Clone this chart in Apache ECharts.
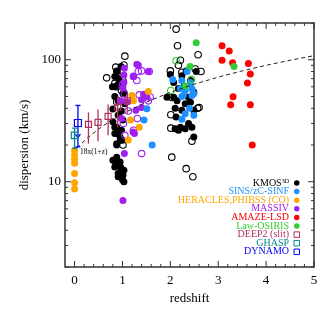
<!DOCTYPE html>
<html><head><meta charset="utf-8">
<script src="https://cdn.jsdelivr.net/npm/echarts@6/dist/echarts.min.js"></script>
<style>html,body{margin:0;padding:0;background:#fff}#c{width:336px;height:314px}</style>
</head><body><div id="c"></div>
<script>
// ---- axis ranges & ticks ----
const X_MIN = -0.2, X_MAX = 5, Y_MIN = 2, Y_MAX = 200;
const xMajorTicks = [0, 1, 2, 3, 4, 5];
const xMinorTicks = [0.2,0.4,0.6,0.8,1.2,1.4,1.6,1.8,2.2,2.4,2.6,2.8,3.2,3.4,3.6,3.8,4.2,4.4,4.6,4.8];
const yMajorTicks = [10, 100];
const yMinorTicks = [2,3,4,5,6,7,8,9,20,30,40,50,60,70,80,90,200];

// ---- data: [redshift, dispersion] ----
const kmosFilled = [
 [0.89,80],[0.84,73],[0.84,60],[0.84,50],[1.03,54],[0.80,39.5],[0.98,38],[0.91,35],[0.84,28],[0.98,26.4],
 [0.84,24.8],[0.95,23.3],[0.88,20.5],[0.96,21.9],[1.01,32],[0.91,46],[1.05,43.6],[0.79,60],[0.91,63],[1.01,52.5],
 [0.80,31],[0.88,28],[0.91,24.7],[1.00,21.9],[0.88,20],[0.93,70],[0.97,88],
 [0.88,15.9],[0.80,15.0],[0.95,14.5],[0.84,13.2],[0.96,13.2],[1.03,12.4],[0.91,11.7],[1.01,11.3],[0.91,11.0],
 [1.00,10.4],[1.03,10.0],[0.86,14.2],[0.98,12.0],
 [2.00,75.5],[2.24,74],[2.54,80],[2.07,65],[2.17,58],[2.07,49.3],[2.38,49.3],[2.49,54],[2.10,40],[2.24,38.5],
 [2.49,38.5],[2.21,28],[2.31,27.2],[2.45,28],[2.10,27.2],[2.38,30],[2.49,23.3],[2.14,46],[2.31,43.6],[2.42,44.9],
 [1.93,49.3],[2.17,26.4],[2.33,81],[2.42,67.5],[2.28,60],[2.12,34]
];
const kmosOpen = [
 [0.67,71],[1.03,90.5],[0.88,80.5],[0.92,73],[0.84,64],[0.88,60],[1.01,67.5],[0.98,56],[0.88,45],[1.01,20],
 [1.05,107],[0.86,87],
 [2.12,178],[2.15,130],[2.58,110],[2.21,99],[2.00,81],[2.64,80],[2.24,79],[2.03,49],[2.01,35.4],[2.57,40],
 [2.01,27.5],[2.45,21.5],[2.03,15.9],[2.33,12.8],[2.47,11.0],[2.60,40.5],[2.17,90],[2.52,84]
];
const sinsData = [
 [1.51,39.6],[1.45,32],[1.62,20],[2.05,69],[2.35,80],[2.24,67.5],[2.31,56],[2.24,50],[2.40,40],[2.24,32.5],
 [2.49,52.5],[2.21,58],[2.45,58],[2.27,51],[2.45,51],[2.31,36],[2.49,35],[2.42,65]
];
const heraclesData = [
 [0,18],[0,16.5],[0,15.3],[0,14.2],[0,11.7],[0,9.8],[0,8.7],
 [1.20,51],[1.54,55],[1.23,46],[1.17,32],[1.35,28],[1.12,22]
];
const massivFilled = [
 [1.03,75],[1.33,90],[1.54,80],[1.03,65],[1.01,59],[1.40,47],[1.51,49.5],[1.28,38.5],[1.40,40.5],[0.98,33],
 [1.25,24.8],[1.04,17],[1.01,7.0],[1.30,92],[1.23,73],[0.96,46],[1.09,45],[1.22,25.6],[1.04,85],[1.44,52]
];
const massivOpen = [
 [1.33,80],[1.40,81],[1.56,80],[1.23,73],[1.30,67.5],[1.35,51.5],[1.54,46],[1.04,52.5],[1.31,33],[1.23,26.4],
 [1.05,24],[1.40,17],[1.58,49.5],[1.02,30],[1.12,38],[1.00,62]
];
const amazeData = [
 [3.08,130],[3.23,118],[3.08,99],[3.30,94.5],[3.63,93],[3.67,76.5],[3.61,64.6],[3.31,49.7],[3.26,42.8],[3.67,42.8],[3.71,20]
];
const lawFilled = [[2.54,138],[2.41,88],[3.33,88],[2.31,61]];
const lawOpen = [[2.12,98],[2.01,56],[2.44,69]];

const deep2Z = [0.29, 0.49, 0.70, 0.90, 1.10];
const deep2Sigma = [29.5, 30.7, 34.3, 40.8, 46];
const deep2Lo = [20.5, 21.5, 24, 28, 36];
const deep2Hi = [37, 39, 43, 50, 52];
const ghaspZ = [0.0], ghaspSigma = [24], ghaspLo = [18.8], ghaspHi = [27.5];
const dynamoZ = [0.07], dynamoSigma = [30.3], dynamoLo = [19.3], dynamoHi = [42.2], dynamoArrow = [23];

// model 18 x (1+z), listed values
const modelZ = [0.05,0.25,0.5,0.75,1,1.5,2,2.5,3,3.5,4,4.5,5];
const modelSigma = [18.9,22.5,27,31.5,36,45,54,63,72,81,90,99,108];

const legendNames = ['KMOS3D','SINS/zC-SINF','HERACLES,PHIBSS (CO)','MASSIV','AMAZE-LSD','Law-OSIRIS','DEEP2 (slit)','GHASP','DYNAMO'];
const C = {
  kmos:'#000000', sins:'#1e90ff', her:'#ffa500', massiv:'#a020f0', amaze:'#ff0000',
  law:'#32cd32', deep2:'#b03060', ghasp:'#008b8b', dynamo:'#0000ff'
};
const AX = '#333';
const SERIF = '"Liberation Serif","DejaVu Serif",serif';

const chart = echarts.init(document.getElementById('c'), null, {renderer:'canvas'});

function filled(name, data, color){
  return {type:'scatter', name, data, symbol:'circle', symbolSize:7,
    itemStyle:{color, opacity:1}, emphasis:{disabled:true}, z:3};
}
function open(name, data, color){
  return {type:'scatter', name, data, symbol:'circle', symbolSize:6.5,
    itemStyle:{color:'rgba(255,255,255,0)', borderColor:color, borderWidth:1.1, opacity:1}, emphasis:{disabled:true}, z:3};
}
function openSq(name, data, color, size){
  return {type:'scatter', name, data, symbol:'rect', symbolSize:size,
    itemStyle:{color:'rgba(255,255,255,0)', borderColor:color, borderWidth:1.2, opacity:1}, emphasis:{disabled:true}, z:6};
}
function errSeries(name, data, color, cap, lw){
  return {type:'custom', name, data, encode:{x:0, y:[1,2]}, z:5, silent:true,
    renderItem: function(params, api){
      const z = api.value(0);
      const lo = api.coord([z, api.value(1)]), hi = api.coord([z, api.value(2)]);
      const ch = [{type:'line', shape:{x1:lo[0],y1:lo[1],x2:hi[0],y2:hi[1]}, style:{stroke:color, lineWidth:lw}}];
      if (cap){
        ch.push({type:'line', shape:{x1:lo[0]-2.5,y1:lo[1],x2:lo[0]+2.5,y2:lo[1]}, style:{stroke:color, lineWidth:lw}});
        ch.push({type:'line', shape:{x1:hi[0]-2.5,y1:hi[1],x2:hi[0]+2.5,y2:hi[1]}, style:{stroke:color, lineWidth:lw}});
      }
      const a = api.value(3);
      if (a){
        const p = api.coord([z, a]);
        ch.push({type:'polyline', shape:{points:[[p[0]-2.5,p[1]-3.5],[p[0],p[1]],[p[0]+2.5,p[1]-3.5]]}, style:{stroke:color, lineWidth:lw, fill:null}});
      }
      return {type:'group', children:ch};
    }};
}

const xTickData = xMajorTicks.map(v=>[v, Y_MIN, 1]).concat(xMinorTicks.map(v=>[v, Y_MIN, 0]));
const yTickData = yMajorTicks.map(v=>[X_MIN, v, 1]).concat(yMinorTicks.map(v=>[X_MIN, v, 0]));

const tickSeriesX = {type:'custom', name:'_xt', data:xTickData, encode:{x:0,y:1}, silent:true, z:10,
  renderItem:function(params, api){
    const v = api.value(0), L = api.value(2) === 1 ? 6 : 3;
    const b = api.coord([v, Y_MIN]), t = api.coord([v, Y_MAX]);
    return {type:'group', children:[
      {type:'line', shape:{x1:b[0],y1:b[1],x2:b[0],y2:b[1]-L}, style:{stroke:AX, lineWidth:1}},
      {type:'line', shape:{x1:t[0],y1:t[1],x2:t[0],y2:t[1]+L}, style:{stroke:AX, lineWidth:1}}
    ]};
  }};
const tickSeriesY = {type:'custom', name:'_yt', data:yTickData, encode:{x:0,y:1}, silent:true, z:10,
  renderItem:function(params, api){
    const v = api.value(1), L = api.value(2) === 1 ? 6 : 3;
    const l = api.coord([X_MIN, v]), r = api.coord([X_MAX, v]);
    return {type:'group', children:[
      {type:'line', shape:{x1:l[0],y1:l[1],x2:l[0]+L,y2:l[1]}, style:{stroke:AX, lineWidth:1}},
      {type:'line', shape:{x1:r[0],y1:r[1],x2:r[0]-L,y2:r[1]}, style:{stroke:AX, lineWidth:1}}
    ]};
  }};

const option = {
  animation:false,
  grid:{left:65, right:22, top:23, bottom:47, show:true, borderColor:AX, borderWidth:1.5, backgroundColor:'transparent'},
  xAxis:{type:'value', min:X_MIN, max:X_MAX, splitNumber:5,
    axisLine:{show:false}, axisTick:{show:false}, splitLine:{show:false},
    axisLabel:{margin:7, color:'#000', fontFamily:SERIF, fontSize:13, showMinLabel:false,
      formatter:function(v){ const r = Math.round(v); return (Math.abs(v-r)<1e-6 && r>=0) ? String(r) : ''; }},
    name:'redshift', nameLocation:'middle', nameGap:22,
    nameTextStyle:{color:'#000', fontFamily:SERIF, fontSize:13}},
  yAxis:{type:'log', logBase:10, min:Y_MIN, max:Y_MAX,
    axisLine:{show:false}, axisTick:{show:false}, splitLine:{show:false}, minorTick:{show:false},
    axisLabel:{margin:4, color:'#000', fontFamily:SERIF, fontSize:13,
      formatter:function(v){ const l = Math.log10(v); return (Math.abs(l-Math.round(l))<1e-6 && v>=9.9 && v<=101) ? String(Math.round(v)) : ''; }},
    name:'dispersion (km/s)', nameLocation:'middle', nameGap:30,
    nameTextStyle:{color:'#000', fontFamily:SERIF, fontSize:13}},
  legend:{orient:'vertical', right:31, top:173, align:'right', itemWidth:5.5, itemHeight:5.5, itemGap:-1.4,
    selectedMode:false,
    textStyle:{fontFamily:SERIF, fontSize:10, lineHeight:9,
      rich:{sup:{fontSize:6, lineHeight:9, verticalAlign:'top', color:'#000', fontFamily:SERIF}}},
    formatter:function(n){ return n === 'KMOS3D' ? 'KMOS{sup|3D}' : n; },
    data:[
      {name:'KMOS3D', textStyle:{color:C.kmos}},
      {name:'SINS/zC-SINF', textStyle:{color:C.sins}},
      {name:'HERACLES,PHIBSS (CO)', textStyle:{color:C.her}},
      {name:'MASSIV', textStyle:{color:C.massiv}},
      {name:'AMAZE-LSD', textStyle:{color:C.amaze}},
      {name:'Law-OSIRIS', textStyle:{color:C.law}},
      {name:'DEEP2 (slit)', textStyle:{color:C.deep2}, itemStyle:{color:'rgba(255,255,255,0)', borderColor:C.deep2, borderWidth:1}},
      {name:'GHASP', textStyle:{color:C.ghasp}, itemStyle:{color:'rgba(255,255,255,0)', borderColor:C.ghasp, borderWidth:1}},
      {name:'DYNAMO', textStyle:{color:C.dynamo}, itemStyle:{color:'rgba(255,255,255,0)', borderColor:C.dynamo, borderWidth:1}}
    ]},
  graphic:[{type:'text', left:80, top:148, style:{text:'18x(1+z)', fontFamily:SERIF, fontSize:7.5, fill:'#000'}}],
  series:[
    filled('KMOS3D', kmosFilled, C.kmos),
    open('KMOS3D open', kmosOpen, C.kmos),
    filled('MASSIV', massivFilled, C.massiv),
    open('MASSIV open', massivOpen, C.massiv),
    filled('HERACLES,PHIBSS (CO)', heraclesData, C.her),
    filled('SINS/zC-SINF', sinsData, C.sins),
    filled('AMAZE-LSD', amazeData, C.amaze),
    filled('Law-OSIRIS', lawFilled, C.law),
    open('Law-OSIRIS open', lawOpen, C.law),
    {type:'line', name:'model', data:modelZ.map((z,i)=>[z, modelSigma[i]]), symbol:'none', smooth:false, z:4,
      lineStyle:{color:'#222', width:1, type:[4,3]}, silent:true},
    errSeries('DEEP2 err', deep2Z.map((z,i)=>[z, deep2Lo[i], deep2Hi[i], 0]), C.deep2, false, 1.3),
    errSeries('GHASP err', ghaspZ.map((z,i)=>[z, ghaspLo[i], ghaspHi[i], 0]), C.ghasp, true, 1.3),
    errSeries('DYNAMO err', dynamoZ.map((z,i)=>[z, dynamoLo[i], dynamoHi[i], dynamoArrow[i]]), C.dynamo, true, 1.3),
    openSq('DEEP2 (slit)', deep2Z.map((z,i)=>[z, deep2Sigma[i]]), C.deep2, 6),
    openSq('GHASP', ghaspZ.map((z,i)=>[z, ghaspSigma[i]]), C.ghasp, 6.5),
    openSq('DYNAMO', dynamoZ.map((z,i)=>[z, dynamoSigma[i]]), C.dynamo, 7),
    tickSeriesX, tickSeriesY
  ]
};
chart.setOption(option);
</script>
</body></html>
